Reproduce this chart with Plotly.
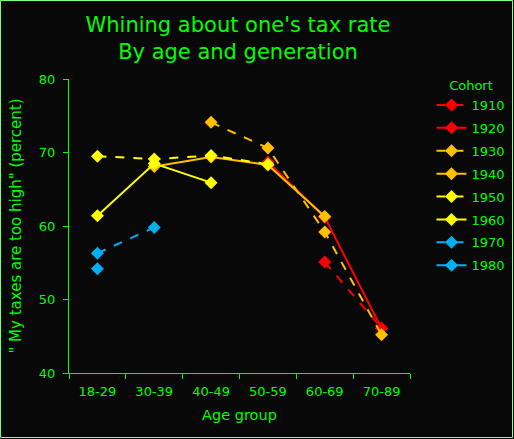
import plotly.graph_objects as go

ages = ["18-29", "30-39", "40-49", "50-59", "60-69", "70-89"]

cohorts = ["1910", "1920", "1930", "1940", "1950", "1960", "1970", "1980"]
c1910 = [None, None, None, None, 55.1, 46.1]
c1920 = [None, None, None, 68.7, 61.2, 46.1]
c1930 = [None, None, 74.1, 70.6, 59.2, 45.2]
c1940 = [None, 68.1, 69.4, 68.3, 61.3, None]
c1950 = [69.5, 69.1, 69.6, 68.4, None, None]
c1960 = [61.4, 68.5, 65.9, None, None, None]
c1970 = [56.3, 59.8, None, None, None, None]
c1980 = [54.2, None, None, None, None, None]

values = [c1910, c1920, c1930, c1940, c1950, c1960, c1970, c1980]
colors = ["#ff0000", "#ff0000", "#ffc000", "#ffc000",
          "#ffff00", "#ffff00", "#00b0f0", "#00b0f0"]
dashes = ["dash", "solid"] * 4

green = "#00ff00"
font = "DejaVu Sans"

fig = go.Figure()
for name, vals, col, dash in zip(cohorts, values, colors, dashes):
    fig.add_trace(go.Scatter(
        name=name,
        x=ages,
        y=vals,
        mode="lines+markers",
        line=dict(color=col, width=2, dash=dash),
        marker=dict(symbol="diamond", size=10, color=col),
        legendgroup=name,
    ))

# thin light green frame round the whole picture
fig.add_shape(type="rect", xref="paper", yref="paper",
              x0=-0.2009, x1=1.3006, y0=-0.2194, y1=1.267,
              line=dict(color="#80ff80", width=1), layer="below")

fig.update_layout(
    width=514,
    height=439,
    paper_bgcolor="#080808",
    plot_bgcolor="#080808",
    margin=dict(l=69, r=104, t=79, b=66, autoexpand=False),
    font=dict(family=font, color=green, size=13),
    title=dict(
        text="Whining about one's tax rate<br>By age and generation",
        x=0.463, xanchor="center",
        y=0.928, yanchor="middle",
        font=dict(size=21, color=green),
    ),
    xaxis=dict(
        title=dict(text="Age group", font=dict(size=14.5), standoff=12),
        type="category",
        range=[-0.5, 5.5],
        automargin=False,
        showgrid=False,
        zeroline=False,
        showline=True,
        linecolor=green,
        linewidth=1,
        ticks="outside",
        tickson="boundaries",
        tickcolor=green,
        ticklen=5,
        ticklabelstandoff=6,
    ),
    yaxis=dict(
        title=dict(text="\" My taxes are too high\" (percent)", font=dict(size=15), standoff=13),
        range=[40, 80],
        dtick=10,
        automargin=False,
        showgrid=False,
        zeroline=False,
        showline=True,
        linecolor=green,
        linewidth=1,
        ticks="outside",
        tickcolor=green,
        ticklen=5,
        ticklabelstandoff=5,
    ),
    legend=dict(
        title=dict(text="Cohort", font=dict(size=13), side="top center"),
        x=1.063, xanchor="left",
        y=1.02, yanchor="top",
        font=dict(size=13),
        tracegroupgap=3,
        bgcolor="rgba(0,0,0,0)",
    ),
)

fig.write_html("out.html", config={"displayModeBar": False},
               post_script="document.body.style.margin='0';")
